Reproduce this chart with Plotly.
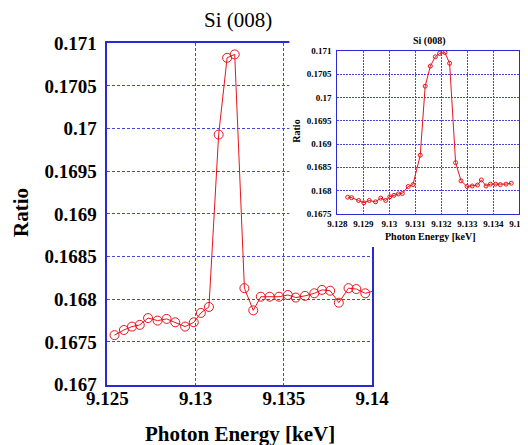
import plotly.graph_objects as go

# ---- main plot data ----
main_energy = [9.12541, 9.12594, 9.12640, 9.12684, 9.12731, 9.12785, 9.12836, 9.12885,
               9.12941, 9.12990, 9.13030, 9.13076, 9.13131, 9.13179, 9.13222, 9.13277,
               9.13327, 9.13370, 9.13420, 9.13473, 9.13523, 9.13568, 9.13620, 9.13673,
               9.13717, 9.13763, 9.13812, 9.13867, 9.13911, 9.13962, 9.14050]
main_ratio = [0.16758, 0.16764, 0.16768, 0.16770, 0.16778, 0.16775, 0.16777, 0.16773,
              0.16768, 0.16773, 0.16784, 0.16791, 0.16993, 0.17083, 0.17087, 0.16813,
              0.16787, 0.16803, 0.16803, 0.16803, 0.16805, 0.16802, 0.16804, 0.16807,
              0.16811, 0.16810, 0.16796, 0.16813, 0.16812, 0.16807, 0.16812]

# ---- inset data ----
inset_energy = [9.12840, 9.12855, 9.12882, 9.12902, 9.12923, 9.12947, 9.12967, 9.12986,
                9.13002, 9.13018, 9.13035, 9.13050, 9.13073, 9.13091, 9.13119, 9.13138,
                9.13158, 9.13177, 9.13193, 9.13214, 9.13232, 9.13255, 9.13276, 9.13299,
                9.13319, 9.13339, 9.13354, 9.13372, 9.13389, 9.13409, 9.13427, 9.13449,
                9.13469]
inset_ratio = [0.16786, 0.16785, 0.16779, 0.16774, 0.16779, 0.16776, 0.16784, 0.16779,
               0.16787, 0.16790, 0.16793, 0.16794, 0.16809, 0.16813, 0.16876, 0.17024,
               0.17067, 0.17087, 0.17094, 0.17096, 0.17073, 0.16860, 0.16821, 0.16809,
               0.16810, 0.16812, 0.16823, 0.16810, 0.16814, 0.16814, 0.16813, 0.16814,
               0.16816]

# ---- ticks ----
main_xticks = [9.125, 9.13, 9.135, 9.14]
main_xlabels = ["9.125", "9.13", "9.135", "9.14"]
ratio_ticks = [0.167, 0.1675, 0.168, 0.1685, 0.169, 0.1695, 0.17, 0.1705, 0.171]
ratio_labels = ["0.167", "0.1675", "0.168", "0.1685", "0.169", "0.1695", "0.17", "0.1705", "0.171"]
inset_xticks = [9.128, 9.129, 9.13, 9.131, 9.132, 9.133, 9.134, 9.135]
inset_xlabels = ["9.128", "9.129", "9.13", "9.131", "9.132", "9.133", "9.134", "9.135"]
inset_yticks = ratio_ticks[1:]
inset_ylabels = ratio_labels[1:]

title_text = "Si (008)"
x_title = "Photon Energy [keV]"
y_title = "Ratio"

# the page body adds an 8px margin, so the figure is 8px smaller and offset
OFF = 8
W, H = 528 - OFF, 445 - OFF
RED = "#e8141c"
BLUE = "#2a2ad2"
GRID = "#4646e0"
SERIF = "Liberation Serif"

fig = go.Figure()
fig.add_trace(go.Scatter(x=main_energy, y=main_ratio, mode="lines+markers",
                         line=dict(color=RED, width=1),
                         marker=dict(symbol="circle-open", size=9, color=RED, line=dict(width=1)),
                         xaxis="x", yaxis="y", showlegend=False, hoverinfo="skip"))
# empty trace on the cover subplot (white backdrop for the inset)
fig.add_trace(go.Scatter(x=[], y=[], xaxis="x2", yaxis="y2", showlegend=False, hoverinfo="skip"))
fig.add_trace(go.Scatter(x=inset_energy, y=inset_ratio, mode="lines+markers",
                         line=dict(color=RED, width=1),
                         marker=dict(symbol="circle-open", size=4, color=RED, line=dict(width=1)),
                         xaxis="x3", yaxis="y3", showlegend=False, hoverinfo="skip"))

def px_x(p):
    return (p - OFF) / W

def px_y(p):
    return 1 - (p - OFF) / H

main_tick_font = dict(family=SERIF, size=19, color="black", weight="bold")
inset_tick_font = dict(family=SERIF, size=9, color="black", weight="bold")

fig.update_layout(
    width=W, height=H, margin=dict(l=0, r=0, t=0, b=0, autoexpand=False),
    paper_bgcolor="white", plot_bgcolor="white",
    xaxis=dict(domain=[px_x(107.3), px_x(372)], anchor="y", range=[9.125, 9.14], automargin=False,
               tickvals=main_xticks, ticktext=main_xlabels, ticks="", ticklabelstandoff=-4,
               showgrid=True, gridcolor=GRID, gridwidth=1, griddash="3px,2px",
               showline=True, linecolor=BLUE, linewidth=1.5, mirror=True, zeroline=False,
               tickfont=main_tick_font),
    yaxis=dict(domain=[px_y(384.6), px_y(43.3)], anchor="x", range=[0.167, 0.171], automargin=False,
               tickvals=ratio_ticks, ticktext=ratio_labels, ticks="", ticklabelstandoff=5,
               showgrid=True, gridcolor=GRID, gridwidth=1, griddash="3px,2px",
               showline=True, linecolor=BLUE, linewidth=1.5, mirror=True, zeroline=False,
               tickfont=main_tick_font),
    xaxis2=dict(domain=[px_x(289.5), 1], anchor="y2", range=[0, 1], visible=False,
                fixedrange=True, automargin=False),
    yaxis2=dict(domain=[px_y(247), px_y(30)], anchor="x2", range=[0, 1], visible=False,
                fixedrange=True, automargin=False),
    xaxis3=dict(domain=[px_x(337.3), px_x(519.3)], anchor="y3", range=[9.128, 9.135], automargin=False,
                tickvals=inset_xticks, ticktext=inset_xlabels, ticks="", ticklabelstandoff=1,
                ticklabeloverflow="allow",
                showgrid=True, gridcolor=GRID, gridwidth=1, griddash="2px,1px",
                showline=True, linecolor=BLUE, linewidth=1.2, mirror=True, zeroline=False,
                tickfont=inset_tick_font),
    yaxis3=dict(domain=[px_y(214), px_y(50.7)], anchor="x3", range=[0.1675, 0.171], automargin=False,
                tickvals=inset_yticks, ticktext=inset_ylabels, ticks="", ticklabelstandoff=3,
                showgrid=True, gridcolor=GRID, gridwidth=1, griddash="2px,1px",
                showline=True, linecolor=BLUE, linewidth=1.2, mirror=True, zeroline=False,
                tickfont=inset_tick_font),
    shapes=[dict(type="rect", xref="x2", yref="y2", x0=0, x1=1, y0=0, y1=1,
                 fillcolor="white", line=dict(width=0), layer="below")],
)

annos = [
    dict(text=title_text, x=px_x(238), y=px_y(20), font=dict(family=SERIF, size=21, color="black")),
    dict(text="<b>%s</b>" % x_title, x=px_x(240), y=px_y(434), font=dict(family=SERIF, size=21, color="black")),
    dict(text="<b>%s</b>" % y_title, x=px_x(21), y=px_y(213), textangle=-90,
         font=dict(family=SERIF, size=21, color="black")),
    dict(text="<b>%s</b>" % title_text, x=px_x(429), y=px_y(40.5), font=dict(family=SERIF, size=10, color="black")),
    dict(text="<b>%s</b>" % x_title, x=px_x(430), y=px_y(236.7), font=dict(family=SERIF, size=10, color="black")),
    dict(text="<b>%s</b>" % y_title, x=px_x(297), y=px_y(131.7), textangle=-90,
         font=dict(family=SERIF, size=10, color="black")),
]
for a in annos:
    fig.add_annotation(xref="paper", yref="paper", xanchor="center", yanchor="middle",
                       showarrow=False, **a)

fig.write_html("out.html")
